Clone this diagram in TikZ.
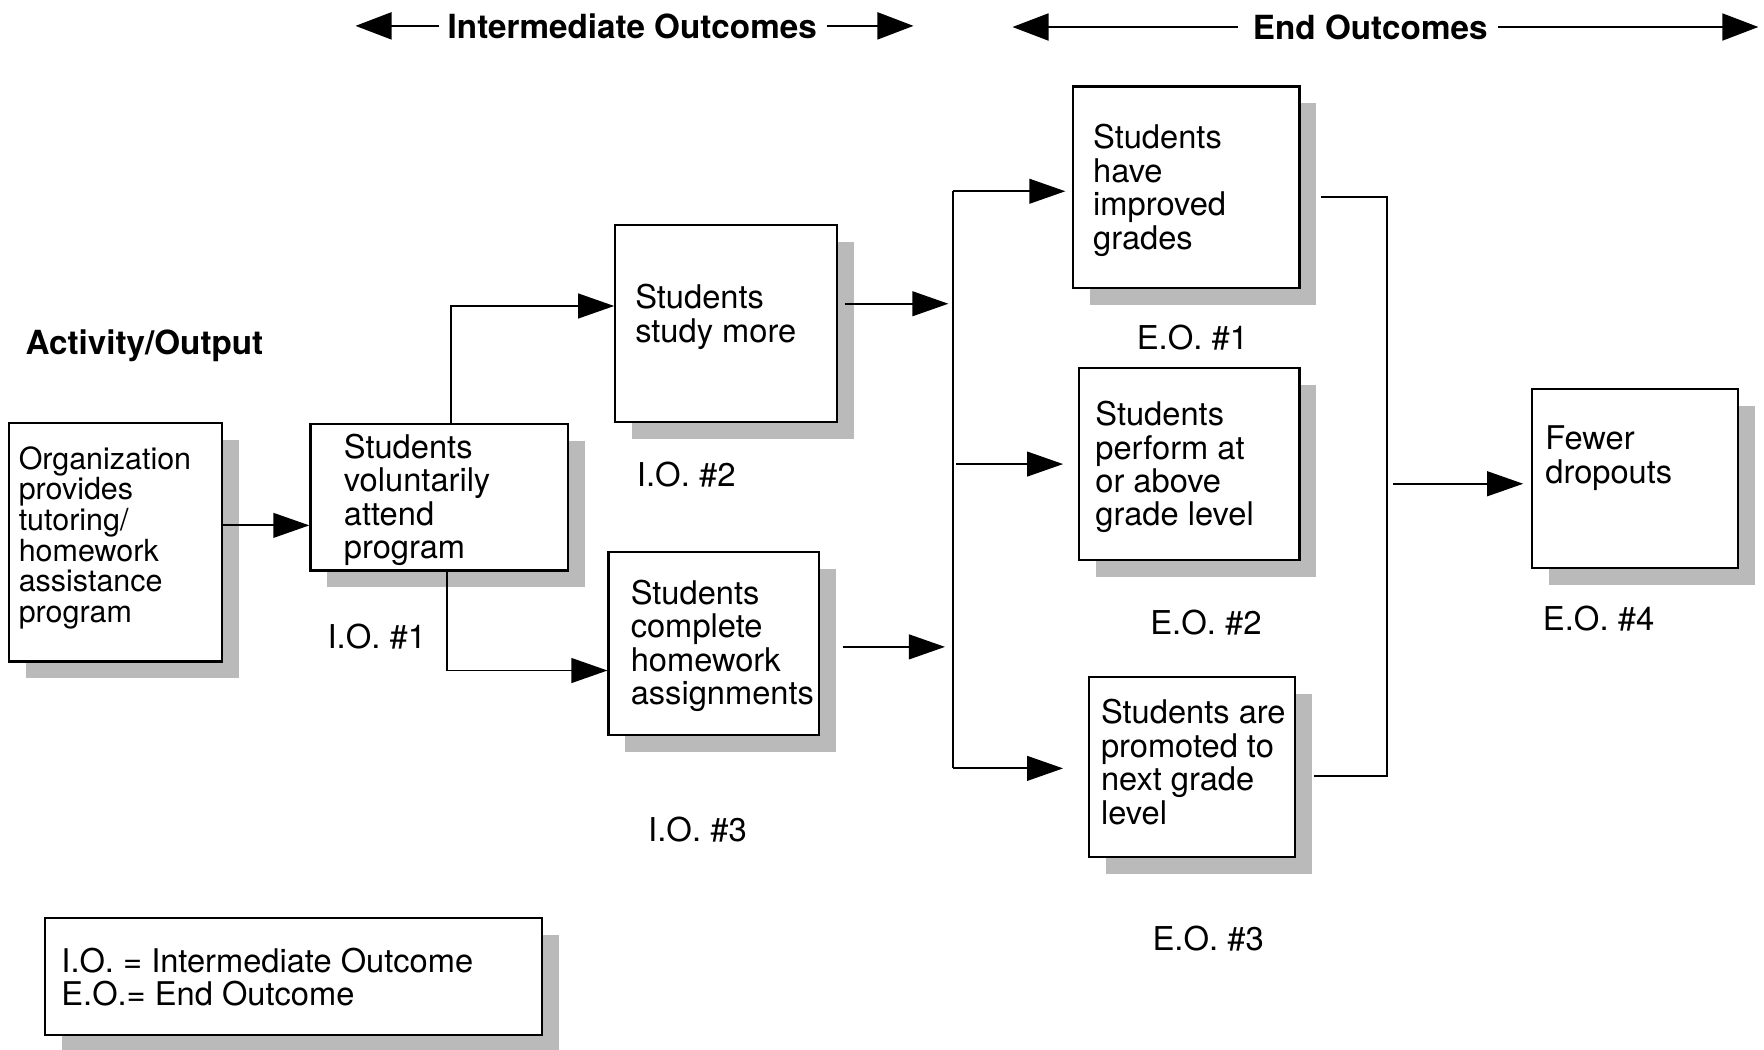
\documentclass[tikz,border=0pt]{standalone}
\usepackage{fontspec}
\setmainfont{TeX Gyre Heros}
\usetikzlibrary{arrows.meta,shadows,calc}

\tikzset{
  outbox/.style={draw, line width=0.55pt, fill=white, inner sep=0pt,
    drop shadow={shadow xshift=0.15cm, shadow yshift=-0.15cm, fill=black!27, opacity=1}},
  boxtext/.style={anchor=north west, align=left, inner sep=0pt,
    font=\fontsize{8.25}{8.45}\selectfont},
  tag/.style={inner sep=0pt, font=\fontsize{8.3}{8.4}\selectfont},
  head/.style={inner sep=0pt, font=\fontsize{8.4}{8.5}\selectfont\bfseries},
  line/.style={line width=0.45pt},
  arr/.style={line width=0.45pt, -{Triangle[length=0.32cm,width=0.22cm]}},
  headarr/.style={line width=0.45pt, -{Triangle[length=0.32cm,width=0.24cm]}}
}

\begin{document}
\begin{tikzpicture}[x=0.01cm, y=-0.01cm]
  \useasboundingbox (0,0) rectangle (1568,932.5);

  % header
  \node[head] (iohead) at (562,23) {Intermediate Outcomes};
  \node[head] (eohead) at (1218,24) {End Outcomes};
  \coordinate (ioL) at (316,23);
  \coordinate (ioR) at (812,23);
  \coordinate (eoL) at (900,24);
  \coordinate (eoR) at (1563,24);
  \draw[headarr] ([xshift=-0.07cm]iohead.west) -- (ioL);
  \draw[headarr] ([xshift=0.08cm]iohead.east) -- (ioR);
  \draw[headarr] ([xshift=-0.13cm]eohead.west) -- (eoL);
  \draw[headarr] ([xshift=0.09cm]eohead.east) -- (eoR);
  \node[head, anchor=west] (act) at (22,307) {Activity/Output};

  % boxes
  \node[outbox, minimum width=1.89cm, minimum height=2.12cm] (org) at (102.5,482) {};
  \node[outbox, minimum width=2.29cm, minimum height=1.30cm] (io1) at (390.5,442) {};
  \node[outbox, minimum width=1.97cm, minimum height=1.75cm] (io2) at (645.5,287.5) {};
  \node[outbox, minimum width=1.87cm, minimum height=1.62cm] (io3) at (634.5,572) {};
  \node[outbox, minimum width=2.01cm, minimum height=1.79cm] (eo1) at (1054.5,166.5) {};
  \node[outbox, minimum width=1.96cm, minimum height=1.71cm] (eo2) at (1057,412.5) {};
  \node[outbox, minimum width=1.83cm, minimum height=1.60cm] (eo3) at (1059.5,682) {};
  \node[outbox, minimum width=1.83cm, minimum height=1.59cm] (eo4) at (1453.5,425.5) {};
  \node[outbox, minimum width=4.42cm, minimum height=1.04cm] (key) at (261,868) {};

  % box texts
  \node[boxtext, font=\fontsize{7.7}{7.75}\selectfont] (orgtxt) at ([shift={(9,21)}]org.north west)
    {Organization\\provides\\tutoring/\\homework\\assistance\\program};
  \node[boxtext] (io1txt) at ([shift={(30,9)}]io1.north west)
    {Students\\voluntarily\\attend\\program};
  \node[boxtext] (io2txt) at ([shift={(18,53)}]io2.north west)
    {Students\\study more};
  \node[boxtext] (io3txt) at ([shift={(20,25)}]io3.north west)
    {Students\\complete\\homework\\assignments};
  \node[boxtext] (eo1txt) at ([shift={(18,34)}]eo1.north west)
    {Students\\have\\improved\\grades};
  \node[boxtext] (eo2txt) at ([shift={(15,30)}]eo2.north west)
    {Students\\perform at\\or above\\grade level};
  \node[boxtext] (eo3txt) at ([shift={(11,20)}]eo3.north west)
    {Students are\\promoted to\\next grade\\level};
  \node[boxtext] (eo4txt) at ([shift={(12,33)}]eo4.north west)
    {Fewer\\dropouts};
  \node[boxtext] (keytxt) at ([shift={(15,27)}]key.north west)
    {I.O. = Intermediate Outcome\\E.O.= End Outcome};

  % tags
  \node[tag] (io1tag) at (335,566) {I.O. \#1};
  \node[tag] (io2tag) at (610,422) {I.O. \#2};
  \node[tag] (io3tag) at (620,737) {I.O. \#3};
  \node[tag] (eo1tag) at (1060,300) {E.O. \#1};
  \node[tag] (eo2tag) at (1072,553) {E.O. \#2};
  \node[tag] (eo3tag) at (1074,834) {E.O. \#3};
  \node[tag] (eo4tag) at (1421,550) {E.O. \#4};

  % connectors
  \coordinate (ioTop) at (847,170);
  \coordinate (ioBot) at (847,683);
  \coordinate (eoMid) at (1233,430);
  \draw[arr] ([yshift=0.15cm]org.east) -- ([yshift=0.15cm]org.east -| io1.west);
  \draw[arr] ([xshift=0.105cm]io1.north) |- ([yshift=0.155cm]io2.west);
  \draw[arr] ([xshift=0.065cm]io1.south) |- ([yshift=-0.24cm]io3.west);
  \draw[arr, shorten >=0.04cm] ([xshift=0.06cm,yshift=0.175cm]io2.east) -- ([yshift=0.175cm]io2.east -| ioTop);
  \draw[arr, shorten >=0.07cm] ([xshift=0.2cm,yshift=-0.03cm]io3.east) -- ([yshift=-0.03cm]io3.east -| ioTop);
  \draw[line] (ioTop) -- (ioBot);
  \draw[arr, shorten >=0.06cm] (ioTop) -- (ioTop -| eo1.west);
  \draw[arr, shorten >=0.13cm] ([xshift=0.03cm]ioTop |- eo2.west) -- (eo2.west);
  \draw[arr, shorten >=0.22cm] (ioBot) -- (ioBot -| eo3.west);
  \draw[line] ([xshift=0.18cm,yshift=-0.085cm]eo1.east) -| (eoMid)
    |- ([xshift=0.16cm,yshift=-0.08cm]eo3.east);
  \draw[arr, shorten >=0.07cm] ([xshift=0.05cm]eoMid) -- (eoMid -| eo4.west);
\end{tikzpicture}
\end{document}
